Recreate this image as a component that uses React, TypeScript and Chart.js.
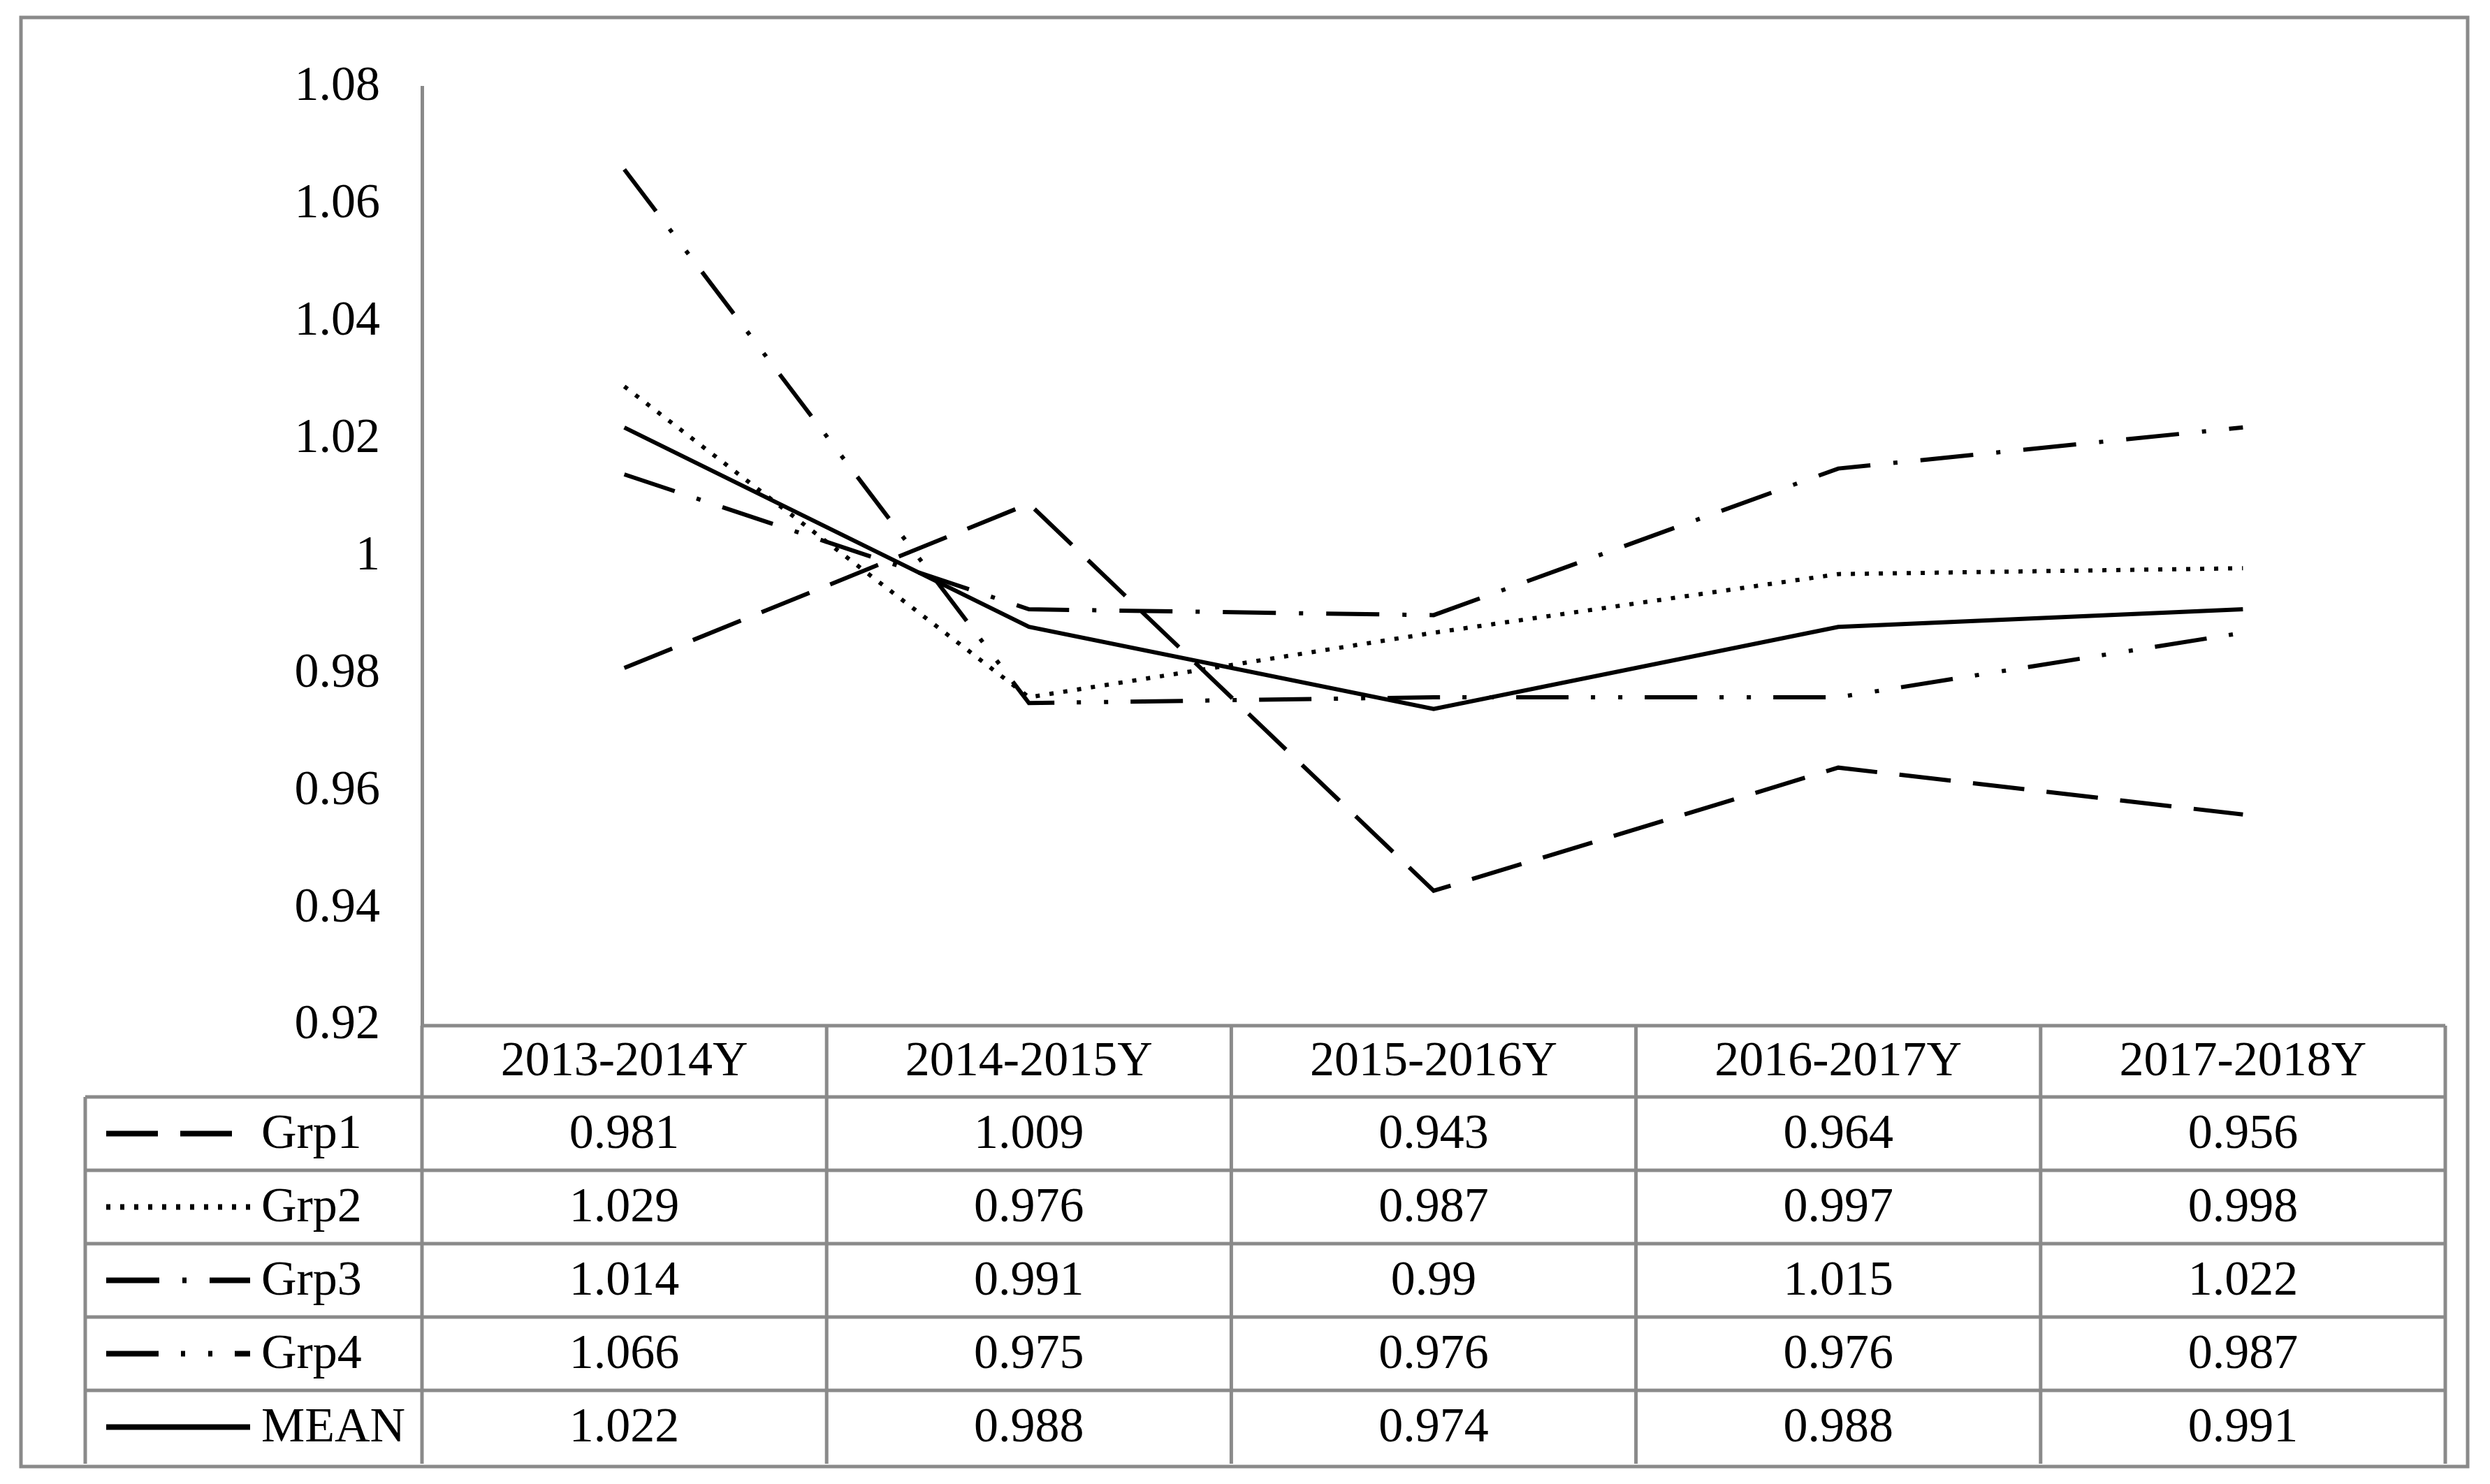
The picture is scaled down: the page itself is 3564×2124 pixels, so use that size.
import React, { useEffect, useRef } from 'react';
import { Chart, registerables } from 'chart.js';

Chart.register(...registerables);

const categories = ['2013-2014Y', '2014-2015Y', '2015-2016Y', '2016-2017Y', '2017-2018Y'];
const seriesNames = ['Grp1', 'Grp2', 'Grp3', 'Grp4', 'MEAN'];
const grp1 = [0.981, 1.009, 0.943, 0.964, 0.956];
const grp2 = [1.029, 0.976, 0.987, 0.997, 0.998];
const grp3 = [1.014, 0.991, 0.99, 1.015, 1.022];
const grp4 = [1.066, 0.975, 0.976, 0.976, 0.987];
const meanVals = [1.022, 0.988, 0.974, 0.988, 0.991];
const yTickValues = [0.92, 0.94, 0.96, 0.98, 1.0, 1.02, 1.04, 1.06, 1.08];
const yTickLabels = ['0.92', '0.94', '0.96', '0.98', '1', '1.02', '1.04', '1.06', '1.08'];

const W = 3564;
const H = 2124;
const FONT = '"Liberation Serif", "Times New Roman", serif';
const GRAY = '#8a8a8a';
const GRID_W = 5;
const LINE_W = 6;

const dashes: number[][] = [
  [74, 32],
  [6, 14],
  [76, 33, 6, 33],
  [75, 32, 6, 33, 6, 32],
  [],
];
const seriesData = [grp1, grp2, grp3, grp4, meanVals];

const PLOT_LEFT = 604;
const PLOT_RIGHT = 3500;
const PLOT_TOP = 125;
const PLOT_BOTTOM = 1468;
const HEADER_H = 102;
const ROW_H = 105;
const LEGEND_LEFT = 122;
const OUTER = { left: 30, top: 25, right: 3532, bottom: 2099 };

const tablePlugin = {
  id: 'dataTable',
  afterDraw(chart: any) {
    const ctx = chart.ctx as CanvasRenderingContext2D;
    const xs = chart.scales.x;
    const area = chart.chartArea;
    const n = categories.length;
    const centers = categories.map((_, i) => xs.getPixelForValue(i));
    const half = (centers[1] - centers[0]) / 2;
    const bounds = [centers[0] - half, ...centers.map((c) => c + half)];
    const top = area.bottom;
    const headerBottom = top + HEADER_H;
    const tableBottom = headerBottom + ROW_H * seriesNames.length;

    ctx.save();
    ctx.strokeStyle = GRAY;
    ctx.lineWidth = GRID_W;
    ctx.setLineDash([]);
    ctx.strokeRect(OUTER.left, OUTER.top, OUTER.right - OUTER.left, OUTER.bottom - OUTER.top);

    ctx.beginPath();
    ctx.moveTo(bounds[0], top);
    ctx.lineTo(bounds[n], top);
    for (let r = 0; r < seriesNames.length; r++) {
      const y = headerBottom + r * ROW_H;
      ctx.moveTo(LEGEND_LEFT, y);
      ctx.lineTo(bounds[n], y);
    }
    ctx.moveTo(LEGEND_LEFT, headerBottom);
    ctx.lineTo(LEGEND_LEFT, tableBottom);
    for (let i = 0; i <= n; i++) {
      ctx.moveTo(bounds[i], top);
      ctx.lineTo(bounds[i], tableBottom);
    }
    ctx.stroke();

    ctx.fillStyle = '#000';
    ctx.font = `70px ${FONT}`;
    ctx.textAlign = 'center';
    ctx.textBaseline = 'middle';
    categories.forEach((c, i) => {
      ctx.fillText(c, centers[i], top + HEADER_H / 2 + 2);
    });

    seriesNames.forEach((name, r) => {
      const yMid = headerBottom + r * ROW_H + ROW_H / 2;
      ctx.save();
      ctx.strokeStyle = '#000';
      ctx.lineWidth = LINE_W + 2;
      ctx.lineCap = 'butt';
      ctx.setLineDash(dashes[r]);
      ctx.beginPath();
      ctx.moveTo(LEGEND_LEFT + 30, yMid);
      ctx.lineTo(LEGEND_LEFT + 236, yMid);
      ctx.stroke();
      ctx.restore();
      ctx.fillStyle = '#000';
      ctx.textAlign = 'left';
      ctx.fillText(name, LEGEND_LEFT + 252, yMid + 2);
      ctx.textAlign = 'center';
      seriesData[r].forEach((v, i) => {
        ctx.fillText(String(v), centers[i], yMid + 2);
      });
    });
    ctx.restore();
  },
};

export default function App() {
  const ref = useRef<HTMLCanvasElement | null>(null);
  useEffect(() => {
    document.body.style.margin = '0';
    const canvas = ref.current;
    if (!canvas) return;
    const chart = new Chart(canvas, {
      type: 'line',
      data: {
        labels: categories,
        datasets: seriesNames.map((name, i) => ({
          label: name,
          data: seriesData[i],
          borderColor: '#000',
          backgroundColor: '#000',
          borderWidth: LINE_W,
          borderDash: dashes[i],
          borderCapStyle: 'butt' as const,
          pointRadius: 0,
          tension: 0,
          fill: false,
        })),
      },
      options: {
        responsive: false,
        animation: false,
        devicePixelRatio: 1,
        layout: {
          padding: { left: 0, top: PLOT_TOP, right: W - PLOT_RIGHT, bottom: H - PLOT_BOTTOM },
        },
        plugins: {
          legend: { display: false },
          tooltip: { enabled: false },
          title: { display: false },
        },
        scales: {
          x: {
            type: 'category',
            offset: true,
            display: false,
            grid: { display: false },
          },
          y: {
            min: 0.92,
            max: 1.08,
            afterFit: (scale: any) => {
              scale.width = PLOT_LEFT;
            },
            afterBuildTicks: (scale: any) => {
              scale.ticks = yTickValues.map((v) => ({ value: v }));
            },
            ticks: {
              color: '#000',
              font: { family: FONT, size: 70 },
              padding: 60,
              callback: (value: any) => {
                const idx = yTickValues.findIndex((t) => Math.abs(t - Number(value)) < 1e-9);
                return idx >= 0 ? yTickLabels[idx] : '';
              },
            },
            grid: { display: false, drawTicks: false },
            border: { display: true, color: GRAY, width: GRID_W },
          },
        },
      },
      plugins: [tablePlugin],
    });
    return () => chart.destroy();
  }, []);
  return (
    <div style={{ position: 'absolute', left: 0, top: 0, width: W, height: H, background: '#fff' }}>
      <canvas ref={ref} width={W} height={H} style={{ display: 'block', width: W, height: H }} />
    </div>
  );
}
